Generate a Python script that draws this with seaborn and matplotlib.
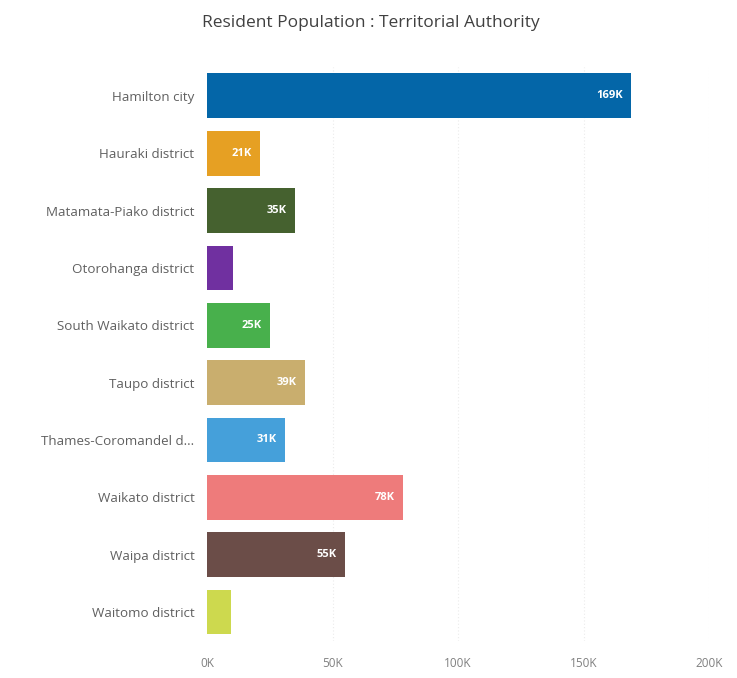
import matplotlib
matplotlib.use("Agg")
import matplotlib.pyplot as plt
import seaborn as sns
import pandas as pd

# Resident population by territorial authority (thousands)
authorities = [
    "Hamilton city",
    "Hauraki district",
    "Matamata-Piako district",
    "Otorohanga district",
    "South Waikato district",
    "Taupo district",
    "Thames-Coromandel d...",
    "Waikato district",
    "Waipa district",
    "Waitomo district",
]
population_k = [169, 21, 35, 10.4, 25, 39, 31, 78, 55, 9.5]
bar_colors = [
    "#0466A8", "#E6A023", "#45612F", "#7030A0", "#48B04C",
    "#C9AE6E", "#45A0DA", "#EE7B7B", "#6B4D48", "#CDD94E",
]
x_ticks = [0, 50, 100, 150, 200]
x_tick_labels = ["0K", "50K", "100K", "150K", "200K"]

df = pd.DataFrame({"authority": authorities, "population": population_k})

sns.set_theme(style="white")
plt.rcParams["font.family"] = ["Open Sans", "DejaVu Sans"]

fig = plt.figure(figsize=(7.37, 6.78), dpi=100)
ax = fig.add_axes([0.281, 0.055, 0.681, 0.846])

sns.barplot(
    data=df, y="authority", x="population", hue="authority",
    palette=bar_colors, orient="h", width=0.78, legend=False,
    saturation=1, linewidth=0, ax=ax,
)

ax.set_xlim(0, 200)
ax.set_xticks(x_ticks)
ax.set_xticklabels(x_tick_labels)
ax.set_xlabel("")
ax.set_ylabel("")
for s in ax.spines.values():
    s.set_visible(False)

for x in x_ticks[1:]:
    ax.axvline(x, color="#ebebeb", linestyle=(0, (1, 2)), linewidth=0.8, zorder=0)

ax.tick_params(axis="x", length=0, pad=12, labelsize=8.5, labelcolor="#808080")
ax.tick_params(axis="y", length=0, pad=9, labelsize=9.6, labelcolor="#606060")

# value labels inside the larger bars
for container in ax.containers:
    for bar in container:
        v = bar.get_width()
        if v >= 20:
            ax.text(
                v - 3.2, bar.get_y() + bar.get_height() / 2, f"{v:.0f}K",
                ha="right", va="center", color="white", fontsize=8,
                fontweight="bold",
            )

fig.text(0.503, 0.966, "Resident Population : Territorial Authority",
         ha="center", va="center", fontsize=12.5, color="#404040")

fig.savefig("out.png", dpi=100, facecolor="white")
